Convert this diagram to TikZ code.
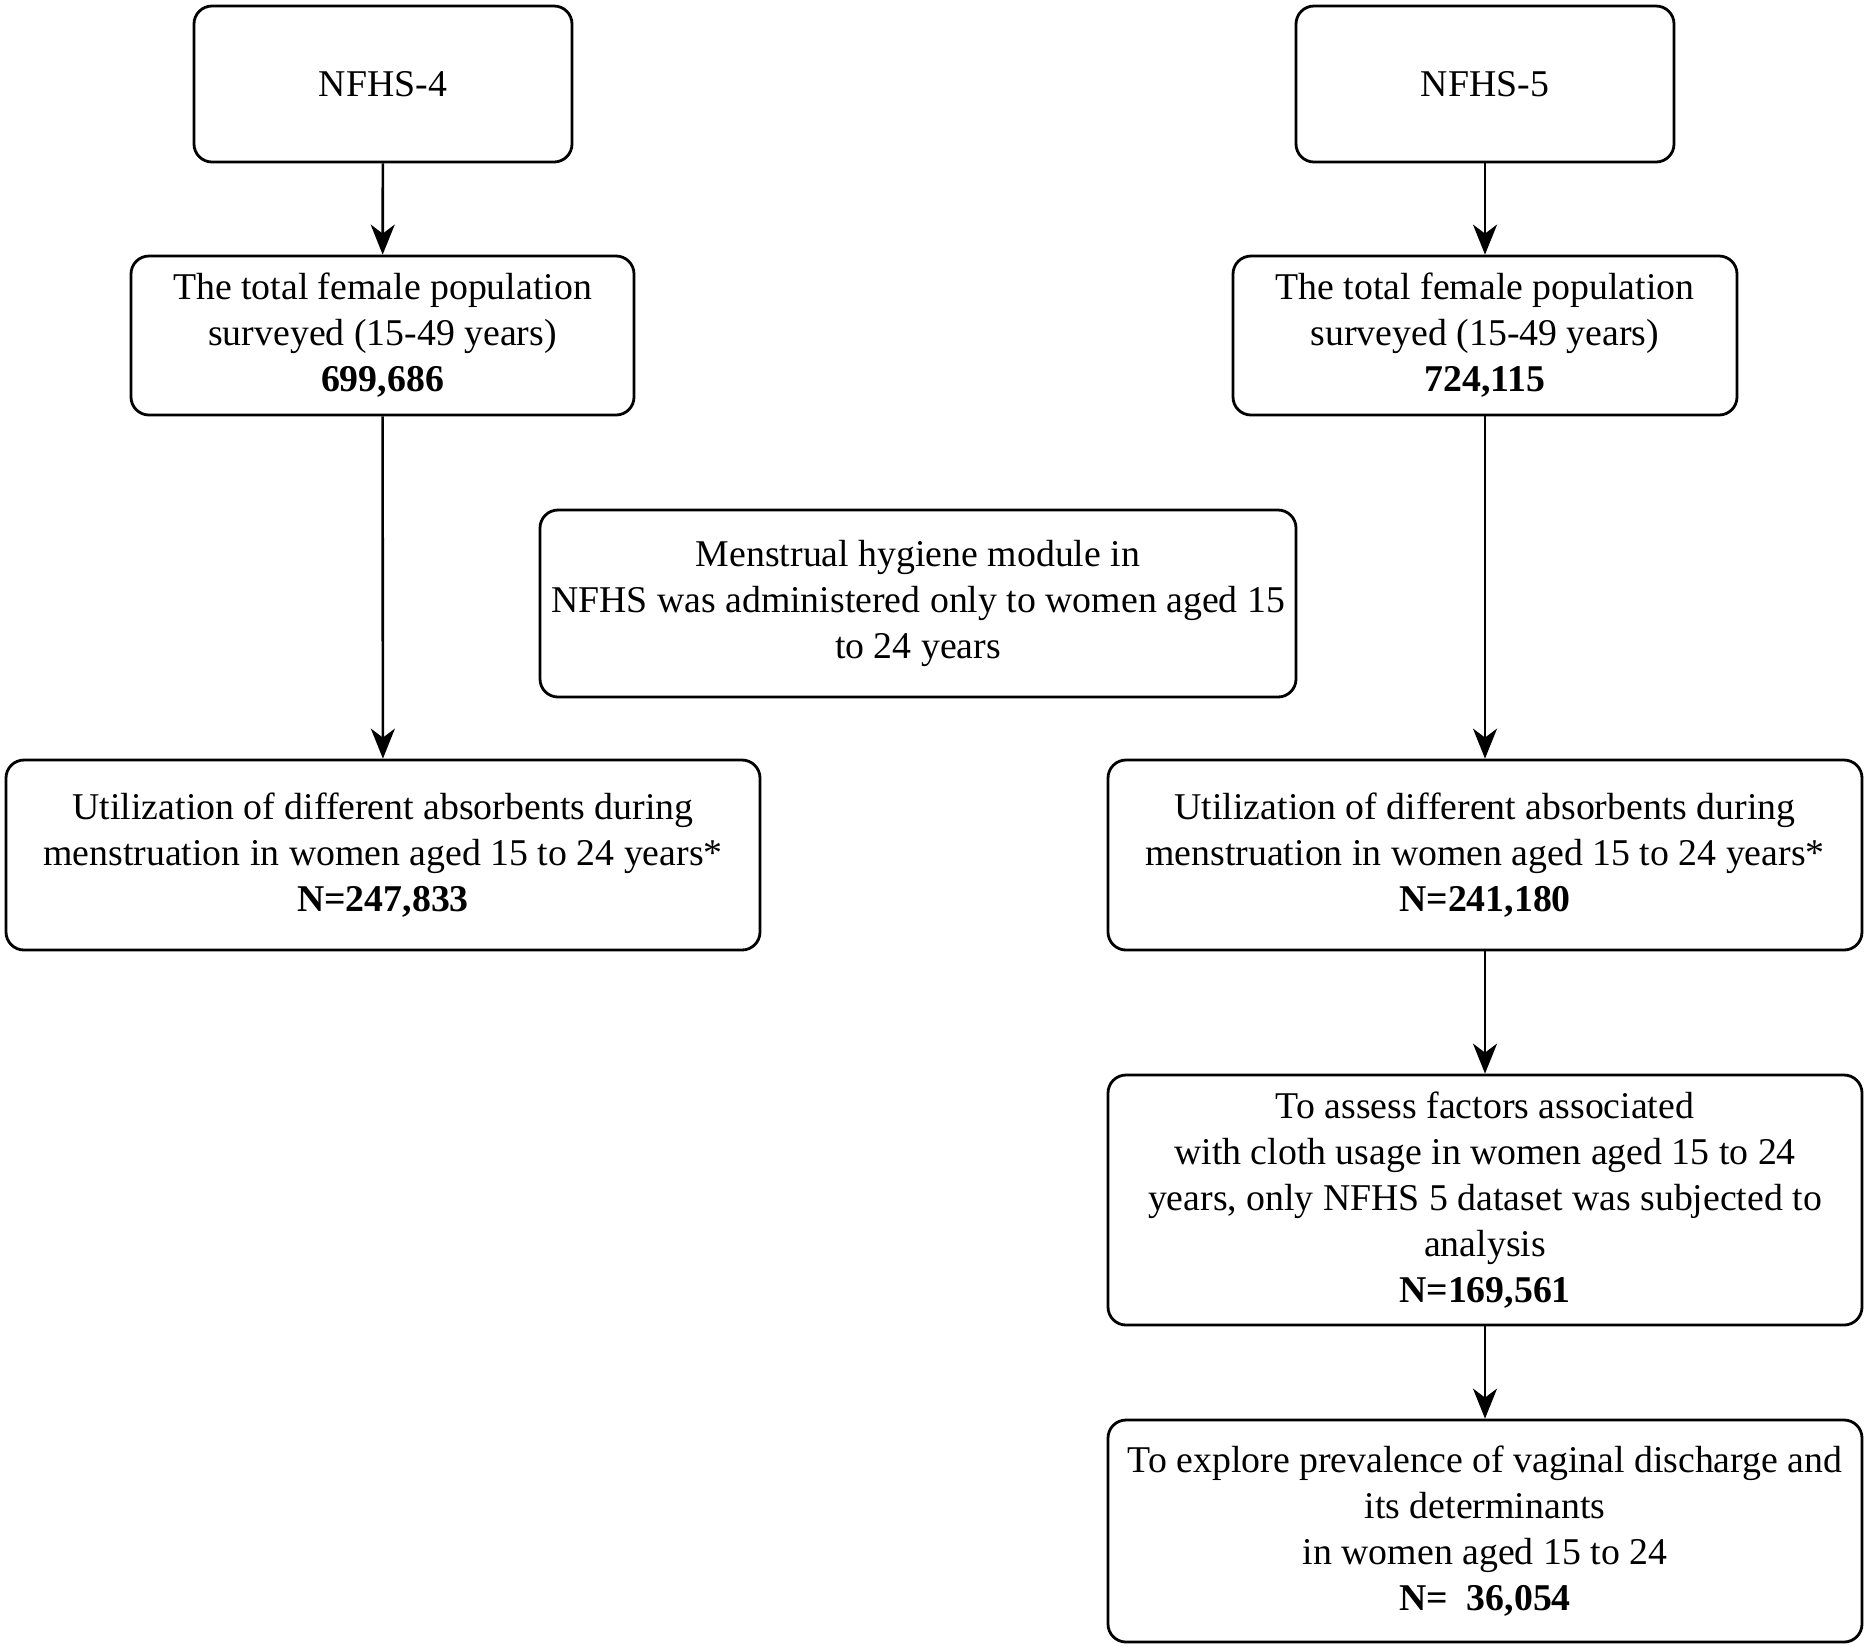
\documentclass[tikz,border=0pt]{standalone}
\usepackage{fontspec}
\setmainfont{Liberation Serif}
\usetikzlibrary{arrows.meta}
\begin{document}
\begin{tikzpicture}[x=0.5pt,y=-0.5pt,
  box/.style={draw=black, line width=1.4pt, rounded corners=9pt, align=center,
    inner sep=0pt, font=\fontsize{18.9}{23}\selectfont},
  arr/.style={line width=1.3pt, -{Stealth[length=15pt,width=12pt,inset=4.5pt]}}]
\useasboundingbox (0,0) rectangle (1867,1646);
\node[box, minimum width=189pt, minimum height=78pt] (n4) at (383,84) {NFHS-4};
\node[box, minimum width=189pt, minimum height=78pt] (n5) at (1485,84) {NFHS-5};
\node[box, minimum width=251.5pt, minimum height=79.5pt] (tL) at (382.5,335.5)
  {The total female population\\surveyed (15-49 years)\\\textbf{699,686}};
\node[box, minimum width=252pt, minimum height=79.5pt] (tR) at (1485,335.5)
  {The total female population\\surveyed (15-49 years)\\\textbf{724,115}};
\node[box, minimum width=378pt, minimum height=93.5pt] (mh) at (918,603.5)
  {Menstrual hygiene module in\\NFHS was administered only to women aged 15\\to 24 years};
\node[box, minimum width=377pt, minimum height=95pt] (uL) at (383,855)
  {Utilization of different absorbents during\\menstruation in women aged 15 to 24 years*\\\textbf{N=247,833}};
\node[box, minimum width=377pt, minimum height=95pt] (uR) at (1485,855)
  {Utilization of different absorbents during\\menstruation in women aged 15 to 24 years*\\\textbf{N=241,180}};
\node[box, minimum width=377pt, minimum height=125pt] (as) at (1485,1200)
  {To assess factors associated\\with cloth usage in women aged 15 to 24\\years, only NFHS 5 dataset was subjected to\\analysis\\\textbf{N=169,561}};
\node[box, minimum width=377pt, minimum height=111pt] (ex) at (1485,1531)
  {To explore prevalence of vaginal discharge and\\its determinants\\in women aged 15 to 24\\\textbf{N=\ \ 36,054}};
\draw[arr] (n4) -- (tL);
\draw[arr] (tL) -- (uL);
\draw[arr] (n5) -- (tR);
\draw[arr] (tR) -- (uR);
\draw[arr] (uR) -- (as);
\draw[arr] (as) -- (ex);
\end{tikzpicture}
\end{document}
